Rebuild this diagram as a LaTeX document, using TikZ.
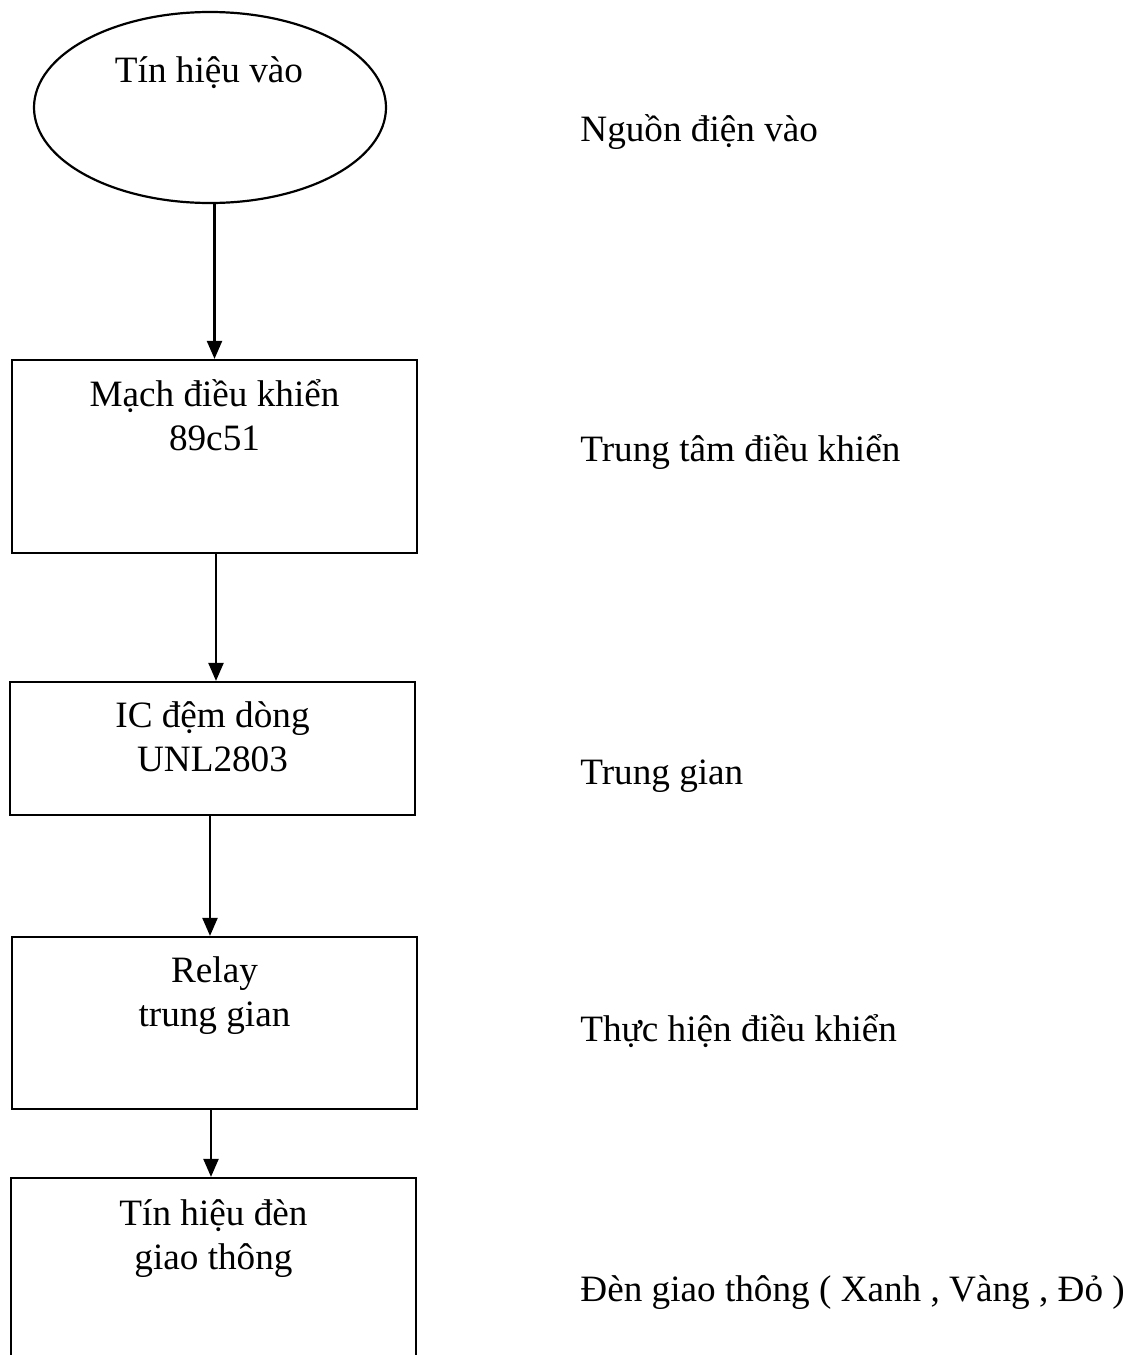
\documentclass[tikz,border=0pt]{standalone}
\usepackage{fontspec}
\setmainfont{Liberation Serif}
\usepackage{tikz}
\usetikzlibrary{positioning}
\usetikzlibrary{shapes.geometric}
\usetikzlibrary{arrows.meta}
\newcommand{\bodyFont}{\fontsize{18.6}{22}\selectfont}
\tikzstyle{sheet} = [x = .5pt, y = -.5pt]
\tikzstyle{blockStyle} = [draw, line width=1.1pt, inner sep=0pt, minimum width=202.5pt]
\tikzstyle{signalStyle} = [draw, ellipse, line width=1.1pt, inner sep=0pt, minimum width=176pt, minimum height=95.5pt]
\tikzstyle{blockText} = [align=center, font=\bodyFont, inner sep=0pt]
\tikzstyle{noteText} = [anchor=base west, font=\bodyFont, inner sep=0pt]
\tikzstyle{flowArrow} = [line width=1.1pt, -{Triangle[length=9pt, width=7.5pt]}]
\newcommand{\block}[4]{\node [blockStyle, minimum height=#4] (#1) at (#2,#3) {};}
\newcommand{\note}[3]{\node [noteText] (#1) at (580,#2) {#3};}

\begin{document}
\begin{tikzpicture}[sheet]
  \useasboundingbox (0,0) rectangle (1135,1355);
  % blocks
  \node [signalStyle] (sig) at (210,107.5) {};
  \block{mcu}{214.5}{456.5}{96.5pt}
  \block{ic}{212.5}{748.5}{66.5pt}
  \block{relay}{214.5}{1023}{86pt}
  \block{lamp}{213.5}{1289}{111pt}
  % texts inside
  \node [blockText] (sigText) at (209,73) {Tín hiệu vào};
  \node [blockText] (mcuText) at (214.5,415) {Mạch điều khiển\\89c51};
  \node [blockText] (icText) at (212.5,737) {IC đệm dòng\\UNL2803};
  \node [blockText] (relayText) at (214.5,996) {Relay\\trung gian};
  \node [blockText] (lampText) at (213.5,1239) {Tín hiệu đèn\\giao thông};
  % arrows
  \draw [flowArrow] (mcu.north |- sig.south) -- (mcu.north);
  \draw [flowArrow] ([xshift=.75pt]mcu.south) -- ([xshift=.75pt]mcu.south |- ic.north);
  \draw [flowArrow] ([xshift=-1.25pt]ic.south) -- ([xshift=-1.25pt]ic.south |- relay.north);
  \draw [flowArrow] ([xshift=-1.75pt]relay.south) -- ([xshift=-1.75pt]relay.south |- lamp.north);
  % notes
  \note{power}{141}{Nguồn điện vào}
  \note{hub}{461}{Trung tâm điều khiển}
  \note{middle}{784}{Trung gian}
  \note{action}{1041}{Thực hiện điều khiển}
  \note{lights}{1301}{Đèn giao thông ( Xanh , Vàng , Đỏ )}
\end{tikzpicture}
\end{document}
